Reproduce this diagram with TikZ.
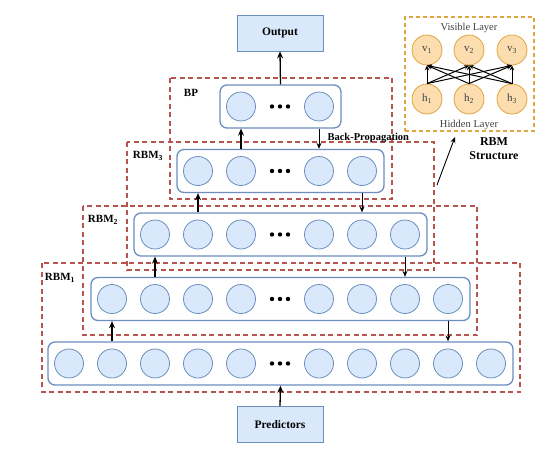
\documentclass[tikz,border=0pt]{standalone}
\usepackage{fontspec}
\setmainfont{Liberation Serif}
\usetikzlibrary{arrows.meta,positioning,calc}
\definecolor{nfill}{HTML}{DAE8FC}
\definecolor{nline}{HTML}{6C8EBF}
\definecolor{rline}{HTML}{B85450}
\definecolor{ofill}{HTML}{FBDDB0}
\definecolor{oline}{HTML}{E0A53C}

\begin{document}
\begin{tikzpicture}[x=1pt,y=-1pt,
 unit/.style={circle,draw=nline,fill=nfill,line width=0.8pt,minimum size=29pt,inner sep=0pt},
 layer/.style={draw=nline,rounded corners=7pt,line width=1.3pt,minimum height=43pt,inner sep=0pt},
 io/.style={draw=nline,fill=nfill,line width=0.8pt,minimum width=86pt,minimum height=36pt,font=\fontsize{11.5}{14}\selectfont\bfseries},
 grp/.style={draw=rline,line width=1.1pt,dash pattern=on 5pt off 3.5pt},
 lbl/.style={font=\fontsize{11}{14}\selectfont\bfseries},
 ounit/.style={circle,draw=oline,fill=ofill,line width=0.8pt,minimum size=30pt,inner sep=0pt,text=black!75,font=\fontsize{11}{13}\selectfont},
 up/.style={-{Stealth[length=7pt,width=6pt]},line width=1.3pt},
 dn/.style={-{Stealth[length=6pt,width=5pt]},line width=1pt}]
\useasboundingbox (0,0) rectangle (550,453);
% groups
\draw[grp] (170,78) rectangle (392,199);\draw[grp] (127,142) rectangle (434,270);
\draw[grp] (83,206) rectangle (477,335);\draw[grp] (42,263) rectangle (520,392);
\node[lbl] (lbp) at (191,93) {BP};\node[lbl] (lr3) at (148,156) {RBM\textsubscript{3}};
\node[lbl] (lr2) at (103,220) {RBM\textsubscript{2}};\node[lbl] (lr1) at (60,278) {RBM\textsubscript{1}};
% layers
\foreach \n/\m/\y in {bp/1/106.5,r3/2/171,r2/3/234.5,r1/4/299,in/5/363.5}{
 \node[layer,minimum width={86*\m+35}] (\n) at (280.5,\y) {};
 \foreach \j in {1,...,\m}{\node[unit] (\n-l\j) at ({284-43*\j},\y) {};\node[unit] (\n-r\j) at ({276+43*\j},\y) {};}
 \foreach \d in {-8,0,8}{\fill ({280+\d},\y) circle (2.2pt);}
}
\node[io] (out) at (280,33) {Output};\node[io] (pred) at (280,424.5) {Predictors};
\draw[up] (bp.north) -- (out.south);\draw[up] (pred.north) -- (in.south);
\foreach \lo/\hi/\j in {r3/bp/1,r2/r3/2,r1/r2/3,in/r1/4}{\draw[up] (\lo.north -| \hi-l\j) -- (\hi.south -| \hi-l\j);}
\foreach \hi/\lo/\j in {bp/r3/1,r3/r2/2,r2/r1/3,r1/in/4}{\draw[dn] (\hi.south -| \hi-r\j) -- (\lo.north -| \hi-r\j);}
\node[lbl,font=\fontsize{10.5}{12}\selectfont\bfseries,anchor=west] (bplbl) at (324,138) {Back-Propagation};
% RBM structure
\node[draw=oline,line width=1.1pt,dash pattern=on 4pt off 3pt,minimum width=129pt,minimum height=114pt] (rbm) at (469.5,74) {};
\node[text=black!75,font=\fontsize{10.5}{12}\selectfont] (vis) at (469,28) {Visible Layer};
\node[text=black!75,font=\fontsize{10.5}{12}\selectfont] (hid) at (469,125) {Hidden Layer};
\foreach \i/\x in {1/427,2/469,3/512}{\node[ounit] (v\i) at (\x,50) {v\textsubscript{\i}};\node[ounit] (h\i) at (\x,99) {h\textsubscript{\i}};}
\foreach \i in {1,2,3}{\foreach \j in {1,2,3}{\draw[-{Stealth[length=5pt,width=4.5pt]},line width=1pt] (h\i.north) -- (v\j.south);}}
\node[align=center,font=\fontsize{12}{14}\selectfont\bfseries] (rbmtxt) at (494,149) {RBM\\Structure};
\coordinate (ptr) at (437,185);\coordinate (ptrend) at (455,137);
\draw[-{Stealth[length=6pt,width=5pt]},line width=0.9pt] (ptr) -- (ptrend);
\end{tikzpicture}
\end{document}
